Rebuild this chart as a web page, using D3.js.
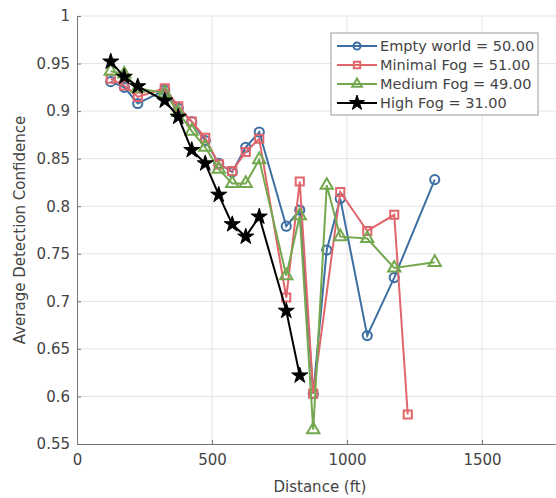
<!DOCTYPE html>
<meta charset="utf-8">
<head>
    <style>
        body { margin: 0; background: #fff; }
        text { font-family: "DejaVu Sans", sans-serif; fill: #444; }
        .grid line { stroke: #e4e4e4; }
    </style>
    <script src="https://cdn.jsdelivr.net/npm/d3@7"></script>
</head>
<body></body>
<script>

    // distances (ft) for each series
    var distEmpty = [125,175,225,325,375,425,475,525,575,625,675,775,825,875,925,975,1075,1175,1325],
        distMinimal = [125,175,225,325,375,425,475,525,575,625,675,775,825,875,975,1075,1175,1225],
        distMedium = [125,175,225,325,375,425,475,525,575,625,675,775,825,875,925,975,1075,1175,1325],
        distHigh = [125,175,225,325,375,425,475,525,575,625,675,775,825];

    var confEmpty = [0.931,0.925,0.908,0.922,0.903,0.889,0.869,0.845,0.836,0.862,0.878,0.779,0.796,0.603,0.754,0.808,0.664,0.725,0.828],
        confMinimal = [0.934,0.927,0.915,0.924,0.905,0.889,0.872,0.844,0.837,0.857,0.871,0.704,0.826,0.603,0.815,0.774,0.791,0.581],
        confMedium = [0.942,0.939,0.924,0.919,0.899,0.879,0.862,0.839,0.824,0.824,0.849,0.727,0.79,0.565,0.822,0.768,0.766,0.735,0.741],
        confHigh = [0.952,0.936,0.926,0.911,0.894,0.859,0.845,0.812,0.781,0.768,0.789,0.69,0.622];

    var labels = ["Empty world = 50.00", "Minimal Fog = 51.00", "Medium Fog = 49.00", "High Fog = 31.00"];
    var colors = ["#3d6fa3", "#e0666b", "#74a84e", "#000000"];
    var symbols = [d3.symbolCircle, d3.symbolSquare, d3.symbolTriangle, d3.symbolStar];
    var xTicks = [0, 500, 1000, 1500],
        yTicks = [0.55,0.6,0.65,0.7,0.75,0.8,0.85,0.9,0.95,1];

    var series = [
        {x: distEmpty, y: confEmpty},
        {x: distMinimal, y: confMinimal},
        {x: distMedium, y: confMedium},
        {x: distHigh, y: confHigh}
    ];

    var width = 556, height = 498;
    var margin = {left: 77, top: 16, bottom: 54};

    var x = d3.scaleLinear().domain([0, 1800]).range([margin.left, 563]),
        y = d3.scaleLinear().domain([0.55, 1]).range([height - margin.bottom, margin.top]);

    var svg = d3.select("body").append("svg")
        .attr("width", width)
        .attr("height", height);

    // grid
    var grid = svg.append("g").attr("class", "grid");
    grid.selectAll(".gx").data(xTicks.slice(1)).enter().append("line")
        .attr("x1", d => x(d)).attr("x2", d => x(d))
        .attr("y1", y(0.55)).attr("y2", y(1));
    grid.selectAll(".gy").data(yTicks.slice(1)).enter().append("line")
        .attr("x1", x(0)).attr("x2", x(1800))
        .attr("y1", d => y(d)).attr("y2", d => y(d));

    // axes
    var xAxis = svg.append("g")
        .attr("transform", "translate(0," + y(0.55) + ")")
        .call(d3.axisBottom(x).tickValues(xTicks).tickFormat(d3.format("d")).tickSize(-4).tickPadding(10));
    var yAxis = svg.append("g")
        .attr("transform", "translate(" + x(0) + ",0)")
        .call(d3.axisLeft(y).tickValues(yTicks).tickFormat(d3.format("")).tickSize(-4).tickPadding(7));
    [xAxis, yAxis].forEach(function(a) {
        a.select(".domain").attr("stroke", "#777");
        a.selectAll(".tick line").attr("stroke", "#777");
        a.selectAll("text").style("font-size", "15px").attr("fill", "#444");
    });

    svg.append("text")
        .attr("x", 320).attr("y", 492)
        .attr("text-anchor", "middle")
        .style("font-size", "15px")
        .text("Distance (ft)");

    svg.append("text")
        .attr("transform", "translate(25," + y(0.775) + ") rotate(-90)")
        .attr("text-anchor", "middle")
        .style("font-size", "15px")
        .text("Average Detection Confidence");

    // lines + markers
    var line = d3.line().x(d => x(d[0])).y(d => y(d[1]));

    series.forEach(function(s, i) {
        var pts = s.x.map((d, j) => [d, s.y[j]]);
        var g = svg.append("g");
        g.append("path")
            .attr("d", line(pts))
            .attr("fill", "none")
            .attr("stroke", colors[i])
            .attr("stroke-width", 2);
        g.selectAll("path.m").data(pts).enter().append("path")
            .attr("class", "m")
            .attr("transform", d => "translate(" + x(d[0]) + "," + y(d[1]) + ")")
            .attr("d", d3.symbol().type(symbols[i]).size(i == 3 ? 80 : 66))
            .attr("fill", i == 3 ? "#000" : "none")
            .attr("stroke", colors[i])
            .attr("stroke-width", i == 3 ? 1 : 2);
    });

    // legend
    var lg = svg.append("g").attr("transform", "translate(331,33)");
    lg.append("rect")
        .attr("width", 207).attr("height", 82)
        .attr("fill", "#fff").attr("stroke", "#999");
    labels.forEach(function(l, i) {
        var ry = 13 + i * 19;
        lg.append("line")
            .attr("x1", 6).attr("x2", 46).attr("y1", ry).attr("y2", ry)
            .attr("stroke", colors[i]).attr("stroke-width", 2);
        lg.append("path")
            .attr("transform", "translate(26," + ry + ")")
            .attr("d", d3.symbol().type(symbols[i]).size(i == 3 ? 70 : 40))
            .attr("fill", i == 3 ? "#000" : "none")
            .attr("stroke", colors[i]).attr("stroke-width", i == 3 ? 1 : 2);
        lg.append("text")
            .attr("x", 49).attr("y", ry + 5)
            .style("font-size", "14.5px")
            .text(l);
    });

</script>
